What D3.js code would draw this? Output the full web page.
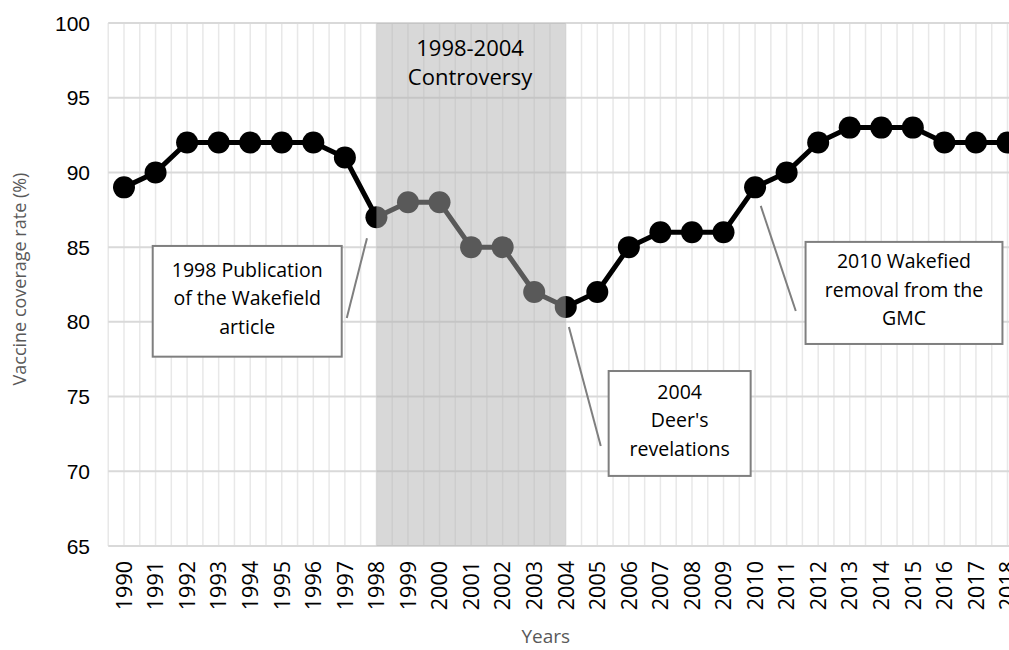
<!DOCTYPE html>
<html>
<head>
<meta charset="utf-8">
<script src="https://cdn.jsdelivr.net/npm/d3@7"></script>
<style>
  body { margin: 0; background: #fff; }
  svg { display: block; }
</style>
</head>
<body>
<svg id="chart" width="1009" height="650"></svg>
<script>
// data
var years = d3.range(1990, 2019);
var coverage = [89, 90, 92, 92, 92, 92, 92, 91, 87, 88, 88, 85, 85, 82, 81,
                82, 85, 86, 86, 86, 89, 90, 92, 93, 93, 93, 92, 92, 92];
var yTicks = [65, 70, 75, 80, 85, 90, 95, 100];
var bandYears = [1998, 2004];
var bandTitle = ["1998-2004", "Controversy"];
var noteText = [
    ["1998 Publication", "of the Wakefield", "article"],
    ["2004", "Deer's", "revelations"],
    ["2010 Wakefied", "removal from the", "GMC"]
];

var svg = d3.select('#chart');
var x = d3.scaleLinear().domain([1990, 2018]).range([124, 1007.5]);
var y = d3.scaleLinear().domain([65, 100]).range([546, 23]);
var step = x(1991) - x(1990);
var left = x(1990) - step / 2;

// vertical grid, at category centres and boundaries
var vLines = d3.range(0, 62).map(function(i) { return left + i * step / 2; });
svg.append('g').selectAll('line').data(vLines).enter().append('line')
    .attr('x1', function(d) { return d; }).attr('x2', function(d) { return d; })
    .attr('y1', y(100)).attr('y2', y(65))
    .attr('stroke', '#e8e8e8').attr('stroke-width', 1.5);

// horizontal grid
svg.append('g').selectAll('line').data(yTicks).enter().append('line')
    .attr('x1', left).attr('x2', 1009)
    .attr('y1', function(d) { return y(d); }).attr('y2', function(d) { return y(d); })
    .attr('stroke', '#d9d9d9').attr('stroke-width', 2);

// y tick labels
svg.append('g').selectAll('text').data(yTicks).enter().append('text')
    .attr('x', 90).attr('y', function(d) { return y(d); })
    .attr('dy', '0.36em').attr('text-anchor', 'end')
    .style('font', '21px "Liberation Sans", Arial, sans-serif').attr('fill', '#000')
    .text(function(d) { return d; });

// x tick labels, rotated
svg.append('g').selectAll('text').data(years).enter().append('text')
    .attr('transform', function(d) { return 'translate(' + x(d) + ',' + 561 + ') rotate(-90)'; })
    .attr('dy', '0.36em').attr('text-anchor', 'end')
    .style('font', '21.5px "Open Sans", sans-serif').attr('fill', '#000')
    .text(function(d) { return d; });

// axis titles
svg.append('text').attr('x', x(2004) - 20).attr('y', 643).attr('text-anchor', 'middle')
    .style('font', '19px "Open Sans", sans-serif').attr('fill', '#595959').text('Years');
svg.append('text').attr('transform', 'translate(26,279) rotate(-90)').attr('text-anchor', 'middle')
    .style('font', '18px "Open Sans", sans-serif').attr('fill', '#595959')
    .text('Vaccine coverage rate (%)');

// series
var pts = years.map(function(d, i) { return [d, coverage[i]]; });
var line = d3.line().x(function(d) { return x(d[0]); }).y(function(d) { return y(d[1]); });
svg.append('path').datum(pts).attr('d', line)
    .attr('fill', 'none').attr('stroke', '#000').attr('stroke-width', 5)
    .attr('stroke-linejoin', 'round');
svg.append('g').selectAll('circle').data(pts).enter().append('circle')
    .attr('cx', function(d) { return x(d[0]); }).attr('cy', function(d) { return y(d[1]); })
    .attr('r', 11).attr('fill', '#000');

// shaded controversy period (semi transparent overlay)
svg.append('rect')
    .attr('x', x(bandYears[0])).attr('width', x(bandYears[1]) - x(bandYears[0]))
    .attr('y', y(100)).attr('height', y(65) - y(100))
    .attr('fill', 'rgb(178,178,178)').attr('fill-opacity', 0.5);

svg.append('g').selectAll('text').data(bandTitle).enter().append('text')
    .attr('x', (x(bandYears[0]) + x(bandYears[1])) / 2 - 1)
    .attr('y', function(d, i) { return 56 + i * 29; })
    .attr('text-anchor', 'middle')
    .style('font', '22px "Open Sans", sans-serif').attr('fill', '#000')
    .text(function(d) { return d; });

// annotation boxes (box corners and leader ends in data units)
var noteLayout = [
    { box: [1990.91, 1996.9, 85.08, 77.67], lead: [1997.7, 85.6, 1997.06, 80.26] },
    { box: [2005.36, 2009.86, 76.71, 69.69], lead: [2004.1, 79.66, 2005.11, 71.69] },
    { box: [2011.6, 2017.84, 85.35, 78.52], lead: [2010.18, 87.76, 2011.29, 80.73] }
];

noteLayout.forEach(function(n, i) {
    var g = svg.append('g');
    g.append('line')
        .attr('x1', x(n.lead[0])).attr('y1', y(n.lead[1]))
        .attr('x2', x(n.lead[2])).attr('y2', y(n.lead[3]))
        .attr('stroke', '#7f7f7f').attr('stroke-width', 2);
    var bx = x(n.box[0]), by = y(n.box[2]);
    var bw = x(n.box[1]) - bx, bh = y(n.box[3]) - by;
    g.append('rect').attr('x', bx).attr('y', by).attr('width', bw).attr('height', bh)
        .attr('fill', '#fff').attr('stroke', '#7f7f7f').attr('stroke-width', 2);
    var lines = noteText[i];
    var mid = by + bh / 2;
    g.selectAll('text').data(lines).enter().append('text')
        .attr('x', bx + bw / 2)
        .attr('y', function(d, j) { return mid - 3 + (j - (lines.length - 1) / 2) * 28.5; })
        .attr('dy', '0.35em').attr('text-anchor', 'middle')
        .style('font', '19.5px "Open Sans", sans-serif').attr('fill', '#000')
        .text(function(d) { return d; });
});
</script>
</body>
</html>
